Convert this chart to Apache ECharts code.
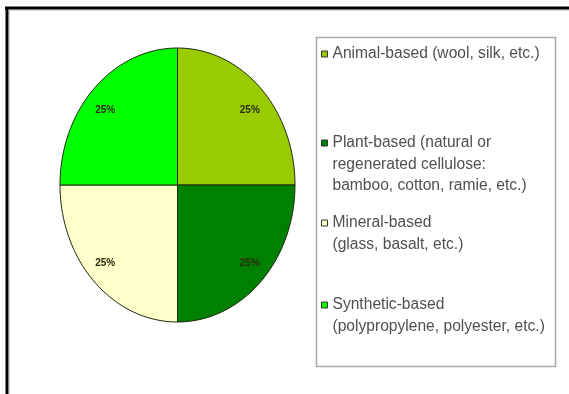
<!DOCTYPE html>
<html>
<head>
<meta charset="utf-8">
<script src="https://cdn.jsdelivr.net/npm/echarts@6/dist/echarts.min.js"></script>
<style>
  html, body { margin: 0; padding: 0; background: #ffffff; }
  #chart { width: 569px; height: 394px; }
</style>
</head>
<body>
<div id="chart"></div>
<script>
// Fibre origin categories and their shares (percent)
const categories = [
  'Animal-based (wool, silk, etc.)',
  'Plant-based (natural or\nregenerated cellulose:\nbamboo, cotton, ramie, etc.)',
  'Mineral-based\n(glass, basalt, etc.)',
  'Synthetic-based\n(polypropylene, polyester, etc.)'
];
const shares = [25, 25, 25, 25];
const sliceColors = ['#99cc00', '#008000', '#ffffcc', '#00ff00'];

// Layout constants
const LEGEND_FIRST_LINE_Y = [54, 143, 223, 305];
const LEGEND_LINE_H = 21.5;
const LABEL_R = [0.87, 0.79];

const total = shares.reduce((a, b) => a + b, 0);
const starts = [];
shares.reduce((acc, v, i) => { starts[i] = acc; return acc + v; }, 0);

// Each slice is a custom series on a hidden [-1,1] x [-1,1] grid,
// so the pie takes the (elliptical) shape of the grid.
function renderSlice(params, api) {
  const s = api.value(0);
  const v = api.value(1);
  const a0 = s / total * Math.PI * 2;
  const a1 = (s + v) / total * Math.PI * 2;
  const steps = Math.max(8, Math.ceil((a1 - a0) / (Math.PI * 2) * 180));
  const pts = [api.coord([0, 0])];
  for (let k = 0; k <= steps; k++) {
    const a = a0 + (a1 - a0) * k / steps;
    pts.push(api.coord([Math.sin(a), Math.cos(a)]));
  }
  const am = (a0 + a1) / 2;
  const lp = api.coord([LABEL_R[0] * Math.sin(am), LABEL_R[1] * Math.cos(am)]);
  return {
    type: 'group',
    children: [
      {
        type: 'polygon',
        shape: { points: pts },
        style: { fill: api.visual('color'), stroke: '#1e2a10', lineWidth: 1 }
      },
      {
        type: 'text',
        style: {
          text: Math.round(v / total * 100) + '%',
          x: lp[0], y: lp[1] + 2,
          align: 'center', verticalAlign: 'middle',
          font: 'bold 10px "Liberation Sans", Arial, sans-serif',
          fill: '#2a2a10'
        }
      }
    ]
  };
}

const series = categories.map((name, i) => ({
  type: 'custom',
  name: name,
  coordinateSystem: 'cartesian2d',
  clip: false,
  silent: true,
  itemStyle: { color: sliceColors[i] },
  renderItem: renderSlice,
  data: [[starts[i], shares[i]]]
}));

// One legend block per category, icon aligned with the first text line
const legends = categories.map((name, i) => {
  const n = name.split('\n').length;
  const totalLines = 2 * n - 1;
  return {
    data: [name],
    orient: 'vertical',
    left: 321,
    top: LEGEND_FIRST_LINE_Y[i] - totalLines * LEGEND_LINE_H / 2,
    padding: 0,
    itemWidth: 6,
    itemHeight: 6,
    icon: 'rect',
    selectedMode: false,
    itemStyle: { borderColor: '#333333', borderWidth: 1 },
    formatter: (nm) => '\n'.repeat(n - 1) + nm,
    textStyle: {
      fontFamily: '"Liberation Sans", Arial, sans-serif',
      fontSize: 15.6,
      lineHeight: LEGEND_LINE_H,
      color: '#505050'
    }
  };
});

const chart = echarts.init(document.getElementById('chart'), null, { renderer: 'canvas' });
chart.setOption({
  backgroundColor: '#ffffff',
  animation: false,
  grid: { left: 60, top: 48, width: 235, height: 274 },
  xAxis: { type: 'value', min: -1, max: 1, show: false },
  yAxis: { type: 'value', min: -1, max: 1, show: false },
  legend: legends,
  graphic: [
    { type: 'line', shape: { x1: 5, y1: 8, x2: 569, y2: 8 }, style: { stroke: '#000', lineWidth: 3 }, silent: true },
    { type: 'line', shape: { x1: 7, y1: 7, x2: 7, y2: 394 }, style: { stroke: '#000', lineWidth: 3 }, silent: true },
    { type: 'line', shape: { x1: 9.5, y1: 10.5, x2: 569, y2: 10.5 }, style: { stroke: '#d6d6d6', lineWidth: 1 }, silent: true },
    { type: 'line', shape: { x1: 9.5, y1: 10.5, x2: 9.5, y2: 394 }, style: { stroke: '#d6d6d6', lineWidth: 1 }, silent: true },
    { type: 'rect', shape: { x: 316.5, y: 37.5, width: 239, height: 329 }, style: { fill: 'none', stroke: '#a8a8a8', lineWidth: 1.5 }, silent: true }
  ],
  series: series
});
</script>
</body>
</html>
